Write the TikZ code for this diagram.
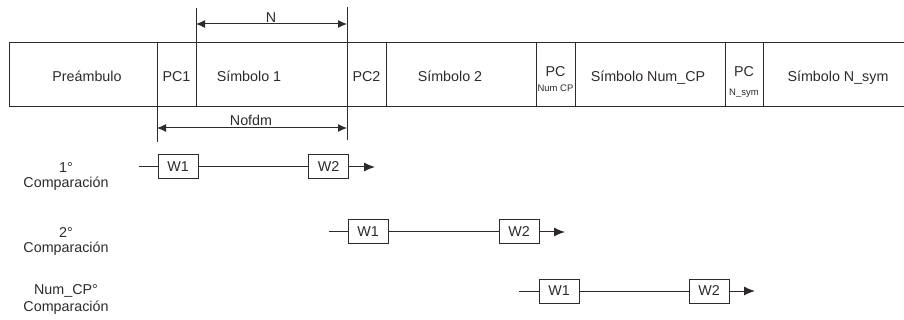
\documentclass[tikz,border=0pt]{standalone}
\usepackage{fontspec}
\setmainfont{Liberation Sans}
\usetikzlibrary{arrows.meta}
\definecolor{ln}{HTML}{2E2A2A}
\begin{document}
\begin{tikzpicture}[x=1pt,y=-1pt, line width=1pt, color=ln,
 txt/.style={font=\fontsize{14.3}{16}\selectfont, inner sep=0pt, anchor=base},
 small/.style={font=\fontsize{9.5}{11}\selectfont, inner sep=0pt, anchor=base},
 wbox/.style={draw=ln, line width=1pt, minimum width=40pt, minimum height=24pt, inner sep=0pt, font=\fontsize{14.3}{16}\selectfont},
 tip/.style={-{Latex[length=11pt,width=9pt]}},
 dim/.style={{Latex[length=9pt,width=8pt]}-{Latex[length=9pt,width=8pt]}}]
\useasboundingbox (0,0) rectangle (904,320);

% frame
\coordinate (ftr) at (904,43);
\coordinate (ftl) at (9,43);
\coordinate (fbl) at (9,107);
\coordinate (fbr) at (904,107);
\draw (ftr) -- (ftl) -- (fbl) -- (fbr);

% dividers
\draw (157,43) -- (157,142);
\draw (196,8) -- (196,107);
\draw (347,7) -- (347,140);
\draw (386,43) -- (386,107);
\draw (536,43) -- (536,107);
\draw (575,43) -- (575,107);
\draw (725,43) -- (725,107);
\draw (763,43) -- (763,107);

% dimension arrows
\coordinate (na) at (196,24);
\coordinate (nb) at (347,24);
\draw[dim] (na) -- (nb);
\node[txt] (nlab) at (271,23) {N};
\coordinate (oa) at (157,128);
\coordinate (ob) at (347,128);
\draw[dim] (oa) -- (ob);
\node[txt] (olab) at (251,126) {Nofdm};

% cell texts
\node[txt] (pre) at (87,82) {Preámbulo};
\node[txt] (pc1) at (176.5,82) {PC1};
\node[txt] (s1) at (249,82) {Símbolo 1};
\node[txt] (pc2) at (366.5,82) {PC2};
\node[txt] (s2) at (450,82) {Símbolo 2};
\node[txt] (pcn) at (555.5,77) {PC};
\node[small] (pcnsub) at (555.5,92) {Num CP};
\node[txt] (snc) at (648,82) {Símbolo Num\_CP};
\node[txt] (pcs) at (744,77) {PC};
\node[small] (pcssub) at (744,96) {N\_sym};
\node[txt] (sns) at (838,82) {Símbolo N\_sym};

% comparison labels
\node[txt] (l1a) at (66,173) {1°};
\node[txt] (l1b) at (66,188) {Comparación};
\node[txt] (l2a) at (66,238) {2°};
\node[txt] (l2b) at (66,253) {Comparación};
\node[txt] (l3a) at (66,294) {Num\_CP°};
\node[txt] (l3b) at (66,311) {Comparación};

% row 1
\coordinate (r1s) at (139,167);
\node[wbox] (r1w1) at (178,167) {W1};
\node[wbox] (r1w2) at (328.5,167) {W2};
\coordinate (r1e) at (375,167);
\draw (r1s) -- (r1w1) -- (r1w2);
\draw[tip] (r1w2) -- (r1e);

% row 2
\coordinate (r2s) at (329,232);
\node[wbox] (r2w1) at (368,232) {W1};
\node[wbox] (r2w2) at (519,232) {W2};
\coordinate (r2e) at (565,232);
\draw (r2s) -- (r2w1) -- (r2w2);
\draw[tip] (r2w2) -- (r2e);

% row 3
\coordinate (r3s) at (519,291);
\node[wbox] (r3w1) at (559,291) {W1};
\node[wbox] (r3w2) at (709,291) {W2};
\coordinate (r3e) at (755,291);
\draw (r3s) -- (r3w1) -- (r3w2);
\draw[tip] (r3w2) -- (r3e);
\end{tikzpicture}
\end{document}
